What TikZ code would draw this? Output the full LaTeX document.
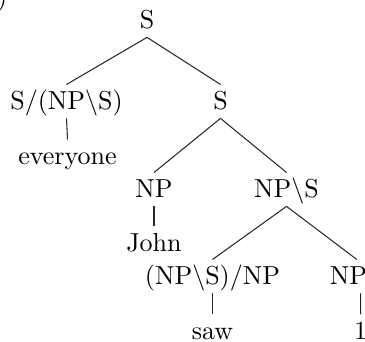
\documentclass[tikz,border=0pt]{standalone}
\begin{document}
\begin{tikzpicture}[x=0.3846pt, y=-0.3846pt,
  cat/.style={inner sep=0pt, outer sep=0pt, text height=6.83pt, text depth=0pt, anchor=base},
  branch/.style={line width=0.4pt, black!85}]
\useasboundingbox (0,0) rectangle (365,341);
\clip (0,0) rectangle (365,341);
% example number from the preceding line
\node[cat, anchor=base west] (exno) at (-3,5) {)};
% categories and words
\node[cat] (s)    at (147,28)    {S};
\node[cat] (gq)   at (66.5,109)  {S/(NP$\backslash$S)};
\node[cat] (ev)   at (67.5,164)  {everyone};
\node[cat] (s2)   at (220.5,109) {S};
\node[cat] (np1)  at (154,197)   {NP};
\node[cat] (john) at (154,251)   {John};
\node[cat] (vp)   at (286.5,197) {NP$\backslash$S};
\node[cat] (tv)   at (212.5,284) {(NP$\backslash$S)/NP};
\node[cat] (saw)  at (212.5,339) {saw};
\node[cat] (np2)  at (348.5,284) {NP};
\node[cat] (one)  at (360.6,339) {1};
% branches
\tikzset{
  dn/.style={yshift=-3.6pt},
  up/.style={yshift=2.6pt}}
\draw[branch] ([dn]s.south)  -- ([up]gq.north);
\draw[branch] ([dn]s.south)  -- ([up]s2.north);
\draw[branch] ([dn]gq.south) -- ([up]ev.north);
\draw[branch] ([dn]s2.south) -- ([up]np1.north);
\draw[branch] ([dn]s2.south) -- ([up]vp.north);
\draw[branch] ([dn]np1.south) -- ([up]john.north);
\draw[branch] ([dn]vp.south) -- ([up]tv.north);
\draw[branch] ([dn]vp.south) -- ([up, xshift=3.2pt]np2.north);
\draw[branch] ([dn]tv.south) -- ([up]saw.north);
\draw[branch] ([dn, xshift=4.65pt]np2.south) -- ([up]one.north);
\end{tikzpicture}
\end{document}
